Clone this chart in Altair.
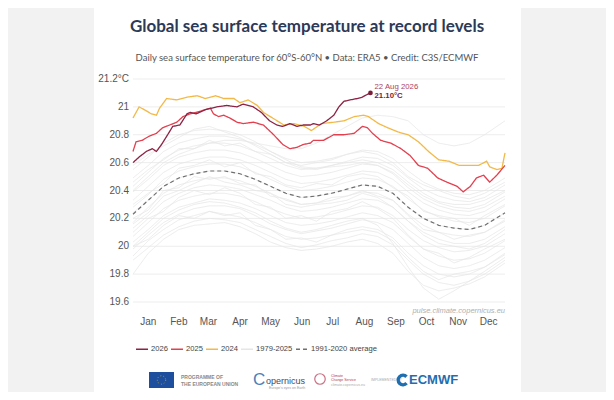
import altair as alt
import pandas as pd

# ---------------- data ----------------
MONTHS = ["Jan", "Feb", "Mar", "Apr", "May", "Jun", "Jul", "Aug", "Sep", "Oct", "Nov", "Dec"]
MONTH_TICKS = [16, 46, 75, 106, 136, 167, 197, 228, 259, 289, 320, 350]
Y_TICKS = [19.6, 19.8, 20.0, 20.2, 20.4, 20.6, 20.8, 21.0, 21.2]
Y_LABELS = ["19.6", "19.8", "20", "20.2", "20.4", "20.6", "20.8", "21", "21.2°C"]

SERIES = ["2026", "2025", "2024", "1979-2025", "1991-2020 average"]
COLORS = ["#8c2344", "#e2404f", "#f3b948", "#e6e6e6", "#707070"]
DASHES = [[1, 0], [1, 0], [1, 0], [1, 0], [4, 3]]

# historical years (grey), sampled twice a month
GRAY_DAYS = [1, 16, 31, 46, 61, 76, 91, 106, 121, 136, 151, 166, 181, 196, 211, 226, 241, 256, 271, 286, 301, 316, 331, 346, 366]
GRAY_LINES = [
    [19.80, 19.95, 20.05, 20.12, 20.15, 20.16, 20.17, 20.14, 20.09, 20.03, 19.99, 19.97, 19.98, 20.00, 20.03, 20.05, 20.02, 19.95, 19.82, 19.72, 19.68, 19.70, 19.73, 19.78, 19.88],
    [19.90, 19.99, 20.08, 20.14, 20.18, 20.20, 20.19, 20.17, 20.12, 20.07, 20.02, 19.99, 20.01, 20.04, 20.06, 20.09, 20.07, 20.01, 19.90, 19.80, 19.74, 19.72, 19.75, 19.80, 19.90],
    [19.93, 20.04, 20.12, 20.19, 20.22, 20.25, 20.23, 20.21, 20.17, 20.12, 20.07, 20.05, 20.06, 20.08, 20.12, 20.14, 20.12, 20.06, 19.95, 19.86, 19.80, 19.78, 19.80, 19.85, 19.94],
    [20.00, 20.05, 20.15, 20.22, 20.20, 20.25, 20.22, 20.24, 20.15, 20.12, 20.05, 20.06, 20.03, 20.08, 20.10, 20.12, 20.10, 20.04, 19.92, 19.82, 19.76, 19.80, 19.82, 19.85, 19.95],
    [19.98, 20.08, 20.17, 20.23, 20.27, 20.29, 20.29, 20.27, 20.22, 20.16, 20.12, 20.09, 20.11, 20.13, 20.16, 20.19, 20.17, 20.12, 20.02, 19.92, 19.86, 19.84, 19.86, 19.90, 19.99],
    [20.00, 20.10, 20.20, 20.26, 20.30, 20.32, 20.31, 20.28, 20.24, 20.18, 20.13, 20.10, 20.12, 20.15, 20.18, 20.20, 20.15, 20.02, 19.85, 19.70, 19.62, 19.68, 19.75, 19.82, 19.92],
    [20.03, 20.12, 20.22, 20.28, 20.31, 20.34, 20.33, 20.31, 20.27, 20.22, 20.17, 20.15, 20.16, 20.18, 20.21, 20.24, 20.22, 20.17, 20.07, 19.98, 19.93, 19.90, 19.91, 19.95, 20.04],
    [20.10, 20.20, 20.25, 20.35, 20.40, 20.37, 20.42, 20.38, 20.30, 20.28, 20.20, 20.22, 20.18, 20.25, 20.27, 20.32, 20.27, 20.20, 20.08, 19.98, 19.95, 19.88, 19.92, 19.98, 20.05],
    [20.07, 20.17, 20.27, 20.33, 20.36, 20.38, 20.38, 20.36, 20.32, 20.27, 20.23, 20.20, 20.21, 20.23, 20.26, 20.29, 20.28, 20.22, 20.12, 20.04, 19.99, 19.96, 19.97, 20.00, 20.09],
    [20.13, 20.22, 20.32, 20.38, 20.42, 20.44, 20.43, 20.41, 20.37, 20.33, 20.28, 20.25, 20.26, 20.28, 20.31, 20.34, 20.33, 20.28, 20.18, 20.10, 20.05, 20.02, 20.02, 20.05, 20.14],
    [20.16, 20.24, 20.36, 20.40, 20.45, 20.50, 20.46, 20.44, 20.40, 20.38, 20.30, 20.28, 20.30, 20.31, 20.33, 20.38, 20.35, 20.28, 20.18, 20.08, 20.02, 20.00, 19.98, 20.02, 20.12],
    [20.17, 20.28, 20.38, 20.44, 20.47, 20.49, 20.49, 20.47, 20.43, 20.38, 20.33, 20.30, 20.31, 20.33, 20.36, 20.39, 20.38, 20.33, 20.23, 20.15, 20.10, 20.08, 20.07, 20.10, 20.19],
    [20.20, 20.26, 20.40, 20.42, 20.50, 20.48, 20.50, 20.45, 20.44, 20.36, 20.34, 20.30, 20.31, 20.35, 20.36, 20.40, 20.36, 20.33, 20.22, 20.12, 20.10, 20.05, 20.08, 20.10, 20.18],
    [20.24, 20.33, 20.43, 20.49, 20.52, 20.54, 20.54, 20.52, 20.48, 20.43, 20.38, 20.35, 20.36, 20.38, 20.41, 20.44, 20.43, 20.38, 20.28, 20.20, 20.15, 20.13, 20.12, 20.15, 20.24],
    [20.28, 20.37, 20.48, 20.54, 20.57, 20.59, 20.59, 20.57, 20.53, 20.48, 20.43, 20.40, 20.41, 20.43, 20.46, 20.49, 20.48, 20.43, 20.34, 20.26, 20.21, 20.18, 20.17, 20.20, 20.29],
    [20.30, 20.38, 20.45, 20.56, 20.58, 20.62, 20.57, 20.60, 20.52, 20.50, 20.44, 20.42, 20.45, 20.44, 20.50, 20.52, 20.50, 20.42, 20.36, 20.25, 20.22, 20.20, 20.15, 20.22, 20.30],
    [20.33, 20.43, 20.53, 20.59, 20.62, 20.64, 20.64, 20.62, 20.58, 20.53, 20.48, 20.45, 20.46, 20.48, 20.51, 20.54, 20.53, 20.48, 20.39, 20.31, 20.26, 20.23, 20.22, 20.25, 20.34],
    [20.39, 20.48, 20.58, 20.64, 20.67, 20.69, 20.69, 20.67, 20.63, 20.58, 20.53, 20.50, 20.51, 20.53, 20.56, 20.59, 20.58, 20.53, 20.44, 20.36, 20.31, 20.28, 20.27, 20.30, 20.39],
    [20.43, 20.53, 20.63, 20.69, 20.72, 20.74, 20.74, 20.72, 20.68, 20.63, 20.58, 20.55, 20.56, 20.58, 20.61, 20.64, 20.63, 20.58, 20.49, 20.41, 20.36, 20.33, 20.32, 20.35, 20.44],
    [20.46, 20.55, 20.62, 20.70, 20.70, 20.76, 20.72, 20.74, 20.68, 20.66, 20.60, 20.58, 20.60, 20.62, 20.66, 20.68, 20.66, 20.60, 20.50, 20.44, 20.40, 20.36, 20.34, 20.38, 20.46],
    [20.49, 20.58, 20.68, 20.74, 20.77, 20.79, 20.79, 20.77, 20.73, 20.68, 20.63, 20.60, 20.61, 20.63, 20.66, 20.69, 20.68, 20.63, 20.54, 20.46, 20.41, 20.38, 20.37, 20.40, 20.49],
    [20.55, 20.64, 20.74, 20.80, 20.83, 20.84, 20.83, 20.80, 20.75, 20.68, 20.62, 20.57, 20.56, 20.57, 20.58, 20.60, 20.58, 20.52, 20.42, 20.34, 20.29, 20.26, 20.25, 20.28, 20.36],
    [20.58, 20.66, 20.72, 20.78, 20.84, 20.86, 20.82, 20.78, 20.72, 20.66, 20.60, 20.56, 20.55, 20.58, 20.60, 20.62, 20.60, 20.55, 20.46, 20.38, 20.32, 20.30, 20.30, 20.33, 20.40],
    [20.40, 20.50, 20.60, 20.66, 20.70, 20.74, 20.76, 20.76, 20.74, 20.72, 20.70, 20.70, 20.74, 20.80, 20.86, 20.92, 20.94, 20.93, 20.90, 20.80, 20.74, 20.72, 20.74, 20.80, 20.90],
]

AVG_DAYS = [1, 16, 31, 46, 61, 76, 91, 106, 121, 136, 151, 166, 181, 196, 211, 226, 241, 256, 271, 286, 301, 316, 331, 346, 366]
AVG_VALS = [20.23, 20.33, 20.43, 20.49, 20.52, 20.54, 20.54, 20.52, 20.48, 20.43, 20.38, 20.35, 20.36, 20.38, 20.41, 20.44, 20.43, 20.38, 20.28, 20.20, 20.15, 20.13, 20.12, 20.15, 20.24]

Y2024_DAYS = [1, 7, 12, 19, 24, 27, 34, 44, 54, 64, 72, 82, 90, 100, 106, 114, 123, 129, 138, 149, 159, 169, 176, 186, 198, 208, 218, 227, 232, 242, 251, 261, 271, 281, 291, 301, 311, 321, 330, 340, 348, 351, 358, 363, 366]
Y2024_VALS = [20.92, 21.00, 20.98, 20.95, 20.94, 20.99, 21.06, 21.05, 21.07, 21.08, 21.06, 21.08, 21.06, 21.06, 21.03, 21.05, 21.01, 20.96, 20.92, 20.87, 20.88, 20.86, 20.83, 20.88, 20.89, 20.90, 20.93, 20.94, 20.93, 20.88, 20.85, 20.82, 20.80, 20.75, 20.68, 20.62, 20.61, 20.58, 20.58, 20.58, 20.61, 20.57, 20.55, 20.56, 20.67]

Y2025_DAYS = [1, 4, 10, 17, 24, 30, 37, 44, 50, 57, 63, 72, 77, 80, 85, 90, 96, 103, 109, 119, 129, 139, 148, 155, 162, 168, 175, 178, 188, 198, 208, 218, 226, 231, 236, 244, 254, 264, 273, 281, 290, 300, 309, 319, 325, 332, 338, 345, 351, 358, 366]
Y2025_VALS = [20.68, 20.75, 20.76, 20.79, 20.81, 20.85, 20.87, 20.89, 20.93, 20.95, 20.96, 20.98, 20.99, 20.95, 20.93, 20.94, 20.92, 20.89, 20.88, 20.89, 20.87, 20.80, 20.73, 20.70, 20.71, 20.73, 20.74, 20.76, 20.76, 20.80, 20.80, 20.81, 20.86, 20.85, 20.81, 20.76, 20.74, 20.70, 20.65, 20.58, 20.56, 20.49, 20.46, 20.43, 20.39, 20.43, 20.49, 20.51, 20.46, 20.51, 20.58]

Y2026_DAYS = [1, 7, 14, 20, 24, 29, 35, 40, 47, 54, 57, 63, 72, 83, 93, 103, 109, 119, 127, 135, 142, 148, 155, 162, 168, 175, 178, 184, 191, 198, 203, 208, 214, 221, 226, 231, 234]
Y2026_VALS = [20.60, 20.64, 20.68, 20.70, 20.68, 20.73, 20.80, 20.86, 20.87, 20.95, 20.96, 20.95, 20.98, 21.00, 21.01, 21.00, 21.02, 21.00, 20.96, 20.90, 20.87, 20.86, 20.88, 20.86, 20.87, 20.87, 20.88, 20.87, 20.90, 20.94, 21.00, 21.04, 21.05, 21.06, 21.07, 21.09, 21.10]

LAST_LABEL = "22 Aug 2026"
LAST_VALUE_LABEL = "21.10°C"

TITLE = "Global sea surface temperature at record levels"
SUBTITLE = "Daily sea surface temperature for 60°S-60°N • Data: ERA5 • Credit: C3S/ECMWF"
WATERMARK = "pulse.climate.copernicus.eu"

# ---------------- tables ----------------
gray_rows = []
for i, vals in enumerate(GRAY_LINES):
    for d, v in zip(GRAY_DAYS, vals):
        gray_rows.append({"year": f"g{i}", "day": d, "temp": v, "series": "1979-2025"})
df_gray = pd.DataFrame(gray_rows)
df_avg = pd.DataFrame({"day": AVG_DAYS, "temp": AVG_VALS, "series": "1991-2020 average"})
df_24 = pd.DataFrame({"day": Y2024_DAYS, "temp": Y2024_VALS, "series": "2024"})
df_25 = pd.DataFrame({"day": Y2025_DAYS, "temp": Y2025_VALS, "series": "2025"})
df_26 = pd.DataFrame({"day": Y2026_DAYS, "temp": Y2026_VALS, "series": "2026"})
df_last = df_26.tail(1)
df_yt = pd.DataFrame({"temp": Y_TICKS, "label": Y_LABELS})
df_xt = pd.DataFrame({"day": MONTH_TICKS, "label": MONTHS})
one = pd.DataFrame({"k": [0]})

# ---------------- encodings ----------------
XS = alt.Scale(domain=[1, 366], nice=False, zero=False)
YS = alt.Scale(domain=[19.6, 21.2], nice=False, zero=False)
xenc = alt.X("day:Q", scale=XS, axis=None)
yenc = alt.Y("temp:Q", scale=YS, axis=None)

legend = alt.Legend(
    title=None, orient="none", legendX=2, legendY=263, direction="horizontal",
    symbolType="stroke", symbolSize=144, symbolStrokeWidth=1.5, labelFontSize=7.6,
    labelColor="#444", labelFont="Liberation Sans", columnPadding=0, labelOffset=2,
)
cenc = alt.Color("series:N", scale=alt.Scale(domain=SERIES, range=COLORS), legend=legend)
denc = alt.StrokeDash("series:N", scale=alt.Scale(domain=SERIES, range=DASHES), legend=legend)


def line_layer(df, width, detail=None):
    enc = dict(x=xenc, y=yenc, color=cenc, strokeDash=denc)
    if detail:
        enc["detail"] = detail
    return alt.Chart(df).mark_line(strokeWidth=width, interpolate="linear").encode(**enc)


def deco_rect(x1, x2, y1, y2, color):
    return alt.Chart(one).mark_rect(color=color).encode(
        x=alt.value(x1), x2=alt.value(x2), y=alt.value(y1), y2=alt.value(y2)
    )


side_left = deco_rect(-125, -39, -71, 313, "#f2f2f2")
side_right = deco_rect(388, 473, -71, 313, "#f2f2f2")

# grid + axis labels through the scales
grid = alt.Chart(df_yt).mark_rule(color="#ededed", strokeWidth=1).encode(
    y=yenc, x=alt.value(0), x2=alt.value(372)
)
ylab = alt.Chart(df_yt).mark_text(
    align="right", baseline="middle", fontSize=10, color="#555", font="Liberation Sans"
).encode(y=yenc, x=alt.value(-4), text="label:N")
xlab = alt.Chart(df_xt).mark_text(
    align="center", baseline="middle", fontSize=10, color="#555", font="Liberation Sans"
).encode(x=xenc, y=alt.value(243), text="label:N")

gray = line_layer(df_gray, 0.8, "year:N")
avg = line_layer(df_avg, 1.2)
l24 = line_layer(df_24, 1.3)
l25 = line_layer(df_25, 1.3)
l26 = line_layer(df_26, 1.3)

pt = alt.Chart(df_last).mark_point(filled=True, size=22, color="#7a1d3a", opacity=1).encode(
    x=xenc, y=yenc
)
ann1 = alt.Chart(df_last).mark_text(
    text=LAST_LABEL, align="left", dx=4, dy=-6, fontSize=7.8, color="#b0405f", font="Liberation Sans"
).encode(x=xenc, y=yenc)
ann2 = alt.Chart(df_last).mark_text(
    text=LAST_VALUE_LABEL, align="left", dx=4, dy=3.5, fontSize=7.8, fontWeight="bold",
    color="#7a1d3a", font="Liberation Sans"
).encode(x=xenc, y=yenc)


def deco_text(txt, x, y, **kw):
    return alt.Chart(one).mark_text(text=txt, **kw).encode(x=alt.value(x), y=alt.value(y))


title = deco_text(TITLE, 174, -52, fontSize=17, fontWeight="bold", font="Lato",
                  color="#2d3a57", align="center", baseline="middle")
subtitle = deco_text(SUBTITLE, 174, -21, fontSize=9.5, font="Lato", color="#555",
                     align="center", baseline="middle")
wm = deco_text(WATERMARK, 372, 232, fontSize=7.5, fontStyle="italic", font="Liberation Sans",
               color="#b0b0b0", align="right", baseline="middle")

# footer logos (decorative approximations)
eu_flag = deco_rect(16, 41, 293, 309, "#1d4f9e")
eu_stars = alt.Chart(one).mark_point(shape="circle", size=70, filled=False, color="#f2c200",
                                     strokeWidth=1, strokeDash=[1, 2]).encode(
    x=alt.value(28.5), y=alt.value(301)
)
eu_t1 = deco_text("PROGRAMME OF", 48, 298, fontSize=5, color="#8a8a8a", align="left",
                  baseline="middle", font="Liberation Sans", fontWeight="bold")
eu_t2 = deco_text("THE EUROPEAN UNION", 48, 305, fontSize=5, color="#8a8a8a", align="left",
                  baseline="middle", font="Liberation Sans", fontWeight="bold")
cop_c = deco_text("C", 120, 301, fontSize=17, color="#4b7fb8", align="left", baseline="middle",
                  font="Liberation Sans")
cop_t = deco_text("opernicus", 133, 302, fontSize=9, color="#34506e", align="left",
                  baseline="middle", font="Liberation Sans")
cop_s = deco_text("Europe's eyes on Earth", 136, 309, fontSize=3.5, color="#999", align="left",
                  baseline="middle", font="Liberation Sans")
c3s_circ = alt.Chart(one).mark_point(shape="circle", size=110, filled=False, color="#b5344f",
                                     strokeWidth=1.2).encode(x=alt.value(187), y=alt.value(300))
c3s_t1 = deco_text("Climate", 198, 297, fontSize=3.5, color="#b5344f", align="left",
                   baseline="middle", font="Liberation Sans")
c3s_t2 = deco_text("Change Service", 198, 301, fontSize=3.5, color="#b5344f", align="left",
                   baseline="middle", font="Liberation Sans")
c3s_t3 = deco_text("climate.copernicus.eu", 198, 306, fontSize=3.5, color="#aaa", align="left",
                   baseline="middle", font="Liberation Sans")
impl = deco_text("IMPLEMENTED BY", 238, 301, fontSize=3.5, color="#aaa", align="left",
                 baseline="middle", font="Liberation Sans")
ec_icon = alt.Chart(one).mark_arc(radius=6.5, radius2=3, theta=2.3, theta2=7.1,
                                  color="#1f6eb0").encode(x=alt.value(270), y=alt.value(301))
ec_t = deco_text("ECMWF", 276, 301, fontSize=13, fontWeight="bold", color="#1f6eb0", align="left",
                 baseline="middle", font="Liberation Sans")

chart = alt.layer(
    side_left, side_right, grid, ylab, xlab, gray, avg, l24, l25, l26, pt, ann1, ann2,
    title, subtitle, wm,
    eu_flag, eu_stars, eu_t1, eu_t2, cop_c, cop_t, cop_s, c3s_circ, c3s_t1, c3s_t2, c3s_t3,
    impl, ec_icon, ec_t,
).properties(
    width=372, height=223,
    autosize=alt.AutoSizeParams(type="none"),
    padding={"left": 125, "top": 71, "right": 101, "bottom": 90},
    background="white",
).configure_view(stroke=None)

chart.save("out.html", embed_options={"renderer": "svg", "actions": False})
